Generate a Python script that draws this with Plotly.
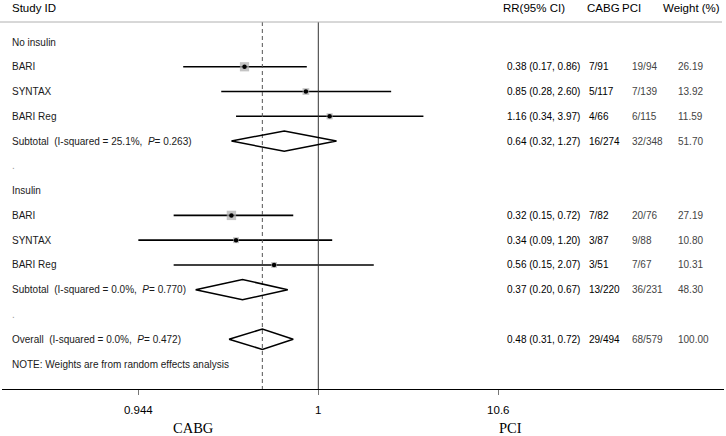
import plotly.graph_objects as go
import numpy as np

# ---------------- data ----------------
study_names = ["BARI", "SYNTAX", "BARI Reg", "BARI", "SYNTAX", "BARI Reg"]
study_rows = [2, 3, 4, 8, 9, 10]
study_rr = [0.38, 0.85, 1.16, 0.32, 0.34, 0.56]
study_lcl = [0.17, 0.28, 0.34, 0.15, 0.09, 0.15]
study_ucl = [0.86, 2.60, 3.97, 0.72, 1.20, 2.07]
study_cabg = ["7/91", "5/117", "4/66", "7/82", "3/87", "3/51"]
study_pci = ["19/94", "7/139", "6/115", "20/76", "9/88", "7/67"]
study_weight = [26.19, 13.92, 11.59, 27.19, 10.80, 10.31]

pooled_names = [
    "Subtotal\u00a0 (I-squared = 25.1%,\u00a0 <i>P</i>= 0.263)",
    "Subtotal\u00a0 (I-squared = 0.0%,\u00a0 <i>P</i>= 0.770)",
    "Overall\u00a0 (I-squared = 0.0%,\u00a0 <i>P</i>= 0.472)",
]
pooled_rows = [5, 11, 13]
pooled_rr = [0.64, 0.37, 0.48]
pooled_lcl = [0.32, 0.20, 0.31]
pooled_ucl = [1.27, 0.67, 0.72]
pooled_cabg = ["16/274", "13/220", "29/494"]
pooled_pci = ["32/348", "36/231", "68/579"]
pooled_weight = [51.70, 48.30, 100.00]

group_names = ["No insulin", "Insulin"]
group_rows = [1, 7]
spacer_rows = [6, 12]
note_text = "NOTE: Weights are from random effects analysis"
note_row = 14

header_labels = ["Study ID", "RR(95% CI)", "CABG", "PCI", "Weight (%)"]
tick_values = [0.0944, 1, 10.6]
tick_labels = ["0.944", "1", "10.6"]
side_labels = ["CABG", "PCI"]

# ---------------- layout constants ----------------
W, H = 726, 436
ML, MR, MT, MB = 2, 2, 22, 47
PW = W - ML - MR
PH = H - MT - MB
X_RANGE = [-1.8017, 2.311]
Y_TOP, Y_BOT = 0.1926, 15.009


def px(p):
    return (p - ML) / PW


def py(p):
    return (H - MB - p) / PH


FONT = "Liberation Sans, Arial, Helvetica, sans-serif"
fig = go.Figure()

# CI lines (clipped at axis lower tick, as in reference)
ci_x, ci_y = [], []
for r, l, u in zip(study_rows, study_lcl, study_ucl):
    ci_x += [max(l, tick_values[0]), u, None]
    ci_y += [r, r, None]
fig.add_trace(go.Scatter(x=ci_x, y=ci_y, mode="lines",
                         line=dict(color="black", width=1.6), hoverinfo="skip"))

# reference lines
fig.add_trace(go.Scatter(x=[1, 1], y=[Y_TOP, Y_BOT], mode="lines",
                         line=dict(color="#333333", width=1), hoverinfo="skip"))
fig.add_trace(go.Scatter(x=[pooled_rr[-1]] * 2, y=[Y_TOP, Y_BOT], mode="lines",
                         line=dict(color="#555555", width=1, dash="4px,3px"),
                         hoverinfo="skip"))

# weight squares
fig.add_trace(go.Scatter(x=study_rr, y=study_rows, mode="markers",
                         marker=dict(symbol="square", color="#ababab",
                                     size=[1.8 * np.sqrt(w) for w in study_weight],
                                     line=dict(width=0)),
                         hoverinfo="skip"))
fig.add_trace(go.Scatter(x=study_rr, y=study_rows, mode="markers",
                         marker=dict(symbol="circle", color="black", size=4.5),
                         hoverinfo="skip"))

# diamonds
dh = 0.41
dx, dy = [], []
for r, e, l, u in zip(pooled_rows, pooled_rr, pooled_lcl, pooled_ucl):
    dx += [l, e, u, e, l, None]
    dy += [r, r - dh, r, r + dh, r, None]
fig.add_trace(go.Scatter(x=dx, y=dy, mode="lines",
                         line=dict(color="black", width=1.5), hoverinfo="skip"))

# ---------------- text ----------------
ann = []
col_x = {"label": px(10), "rr": px(505), "cabg": px(587), "pci": px(630), "w": px(676)}
hdr_x = [px(10), px(500.5), px(584.5), px(619.5), px(661)]
for t, x in zip(header_labels, hdr_x):
    ann.append(dict(x=x, y=py(8), xref="paper", yref="paper", text=t,
                    showarrow=False, xanchor="left", yanchor="middle",
                    font=dict(size=11.5, color="black", family=FONT)))


def row_text(x, y, t, color="#1a1a1a"):
    ann.append(dict(x=x, y=y, xref="paper", yref="y", text=t, showarrow=False,
                    xanchor="left", yanchor="middle",
                    font=dict(size=10, color=color, family=FONT)))


for n, r in zip(group_names, group_rows):
    row_text(col_x["label"], r, n)
for r in spacer_rows:
    row_text(col_x["label"], r, ".", color="#999999")
row_text(col_x["label"], note_row, note_text)

for n, r, e, l, u, c, p, w in zip(study_names, study_rows, study_rr, study_lcl,
                                  study_ucl, study_cabg, study_pci, study_weight):
    row_text(col_x["label"], r, n)
    row_text(col_x["rr"], r, f"{e:.2f} ({l:.2f}, {u:.2f})", color="black")
    row_text(col_x["cabg"], r, c, color="black")
    row_text(col_x["pci"], r, p, color="#444444")
    row_text(col_x["w"], r, f"{w:.2f}", color="#444444")

for n, r, e, l, u, c, p, w in zip(pooled_names, pooled_rows, pooled_rr, pooled_lcl,
                                  pooled_ucl, pooled_cabg, pooled_pci, pooled_weight):
    row_text(col_x["label"], r, n)
    row_text(col_x["rr"], r, f"{e:.2f} ({l:.2f}, {u:.2f})", color="black")
    row_text(col_x["cabg"], r, c, color="black")
    row_text(col_x["pci"], r, p, color="#444444")
    row_text(col_x["w"], r, f"{w:.2f}", color="#444444")

for t, x in zip(side_labels, [px(193), px(510.7)]):
    ann.append(dict(x=x, y=py(428), xref="paper", yref="paper", text=t,
                    showarrow=False, xanchor="center", yanchor="middle",
                    font=dict(size=14.5, color="black",
                              family="Liberation Serif, Times New Roman, serif")))

fig.update_layout(
    width=W, height=H,
    margin=dict(l=ML, r=MR, t=MT, b=MB),
    paper_bgcolor="white", plot_bgcolor="white",
    showlegend=False,
    annotations=ann,
    shapes=[dict(type="line", xref="paper", yref="paper",
                 x0=px(0), x1=px(722), y0=1, y1=1,
                 line=dict(color="#b0b0b0", width=1))],
    xaxis=dict(type="log", range=X_RANGE, showgrid=False, zeroline=False,
               showline=True, linecolor="black", linewidth=1,
               tickmode="array", tickvals=tick_values, ticktext=tick_labels,
               ticks="outside", ticklen=5, tickcolor="#777777", tickwidth=1,
               ticklabelstandoff=5, fixedrange=True,
               tickfont=dict(size=11.5, color="black", family=FONT)),
    yaxis=dict(range=[Y_BOT, Y_TOP], visible=False, fixedrange=True),
)

fig.write_html("out.html",
               config={"displayModeBar": False, "staticPlot": True},
               post_script="document.body.style.margin='0px';"
                           "document.body.style.overflow='hidden';")
